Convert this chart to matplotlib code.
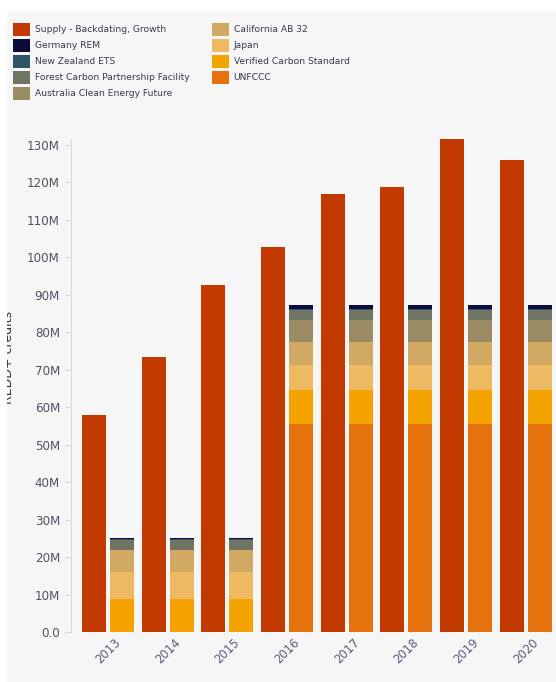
import matplotlib
matplotlib.use('Agg')
import matplotlib.pyplot as plt
from matplotlib.patches import Rectangle, Patch
import numpy as np

years = ['2013', '2014', '2015', '2016', '2017', '2018', '2019', '2020']
supply = [57.8, 73.3, 92.5, 102.9, 117.0, 118.9, 131.5, 125.9]
unfccc = [0.0, 0.0, 0.0, 55.6, 55.6, 55.6, 55.6, 55.6]
vcs = [8.9, 8.9, 8.9, 9.1, 9.1, 9.1, 9.1, 9.1]
japan = [7.0, 7.0, 7.0, 6.7, 6.7, 6.7, 6.7, 6.7]
california = [6.0, 6.0, 6.0, 5.9, 5.9, 5.9, 5.9, 5.9]
australia = [0.0, 0.0, 0.0, 6.0, 6.0, 6.0, 6.0, 6.0]
fcpf = [2.6, 2.6, 2.6, 2.7, 2.7, 2.7, 2.7, 2.7]
new_zealand = [0.2, 0.2, 0.2, 0.3, 0.3, 0.3, 0.3, 0.3]
germany = [0.5, 0.5, 0.5, 1.1, 1.1, 1.1, 1.1, 1.1]

supply_name = 'Supply - Backdating, Growth'
# stacking order bottom -> top
demand_names = ['UNFCCC', 'Verified Carbon Standard', 'Japan', 'California AB 32',
                'Australia Clean Energy Future', 'Forest Carbon Partnership Facility',
                'New Zealand ETS', 'Germany REM']
demand_values = [unfccc, vcs, japan, california, australia, fcpf, new_zealand, germany]
demand_colors = ['#e5720d', '#f5a300', '#edb961', '#d1a962', '#9b8c66', '#6f7562',
                 '#2f5568', '#0c0b3c']
supply_color = '#c33a01'

BG = '#f6f6f6'
W, H = 556, 682
fig = plt.figure(figsize=(W / 100, H / 100), dpi=100)
fig.patch.set_facecolor(BG)

ax = fig.add_axes([71 / W, 50 / H, 485 / W, 493 / H])
ax.set_facecolor(BG)

x = np.arange(len(years))
bw = 0.403
off = 0.235

ax.bar(x - off, supply, width=bw, color=supply_color, edgecolor='none', label=supply_name)
bottom = np.zeros(len(years))
for name, vals, col in zip(demand_names, demand_values, demand_colors):
    v = np.array(vals)
    ax.bar(x + off, v, width=bw, bottom=bottom, color=col, edgecolor='none', label=name)
    bottom += v

ax.set_xlim(-0.624, 7.51)
ax.set_ylim(0, 131.6)
yt = np.arange(0, 131, 10)
ax.set_yticks(yt)
ax.set_yticklabels(['0.0'] + [f'{int(v)}M' for v in yt[1:]])
ax.set_xticks(x)
ax.set_xticklabels(years, rotation=45, ha='center', va='top')

for s in ['top', 'right', 'bottom']:
    ax.spines[s].set_visible(False)
ax.spines['left'].set_color('#d9d9d9')
ax.spines['left'].set_linewidth(0.8)
ax.tick_params(axis='y', length=4, width=0.8, color='#d9d9d9', pad=4,
               labelsize=8.6, labelcolor='#4e5262')
ax.tick_params(axis='x', length=0, pad=3, labelsize=8.4, labelcolor='#5a5a7a')

# legend (column-first, reversed demand order after supply)
leg_labels = [supply_name] + demand_names[::-1]
leg_colors = [supply_color] + demand_colors[::-1]
leg_handles = [Patch(facecolor=c, edgecolor='none') for c in leg_colors]
fs = 6.6
fig.legend(leg_handles, leg_labels, ncol=2, loc='upper left',
           bbox_to_anchor=(13.3 / W, 1 - 22.7 / H), frameon=False,
           fontsize=fs, borderpad=0, borderaxespad=0,
           handlelength=17 / (fs * 100 / 72), handleheight=16.6 / (fs * 100 / 72),
           handletextpad=0.55, labelspacing=0.33, columnspacing=2.35,
           labelcolor='#3a3a4a')

# y-axis label (clipped at the left edge as in the reference)
fig.text(15.5 / W, 325 / H, 'REDD+ credits', rotation=90, ha='right', va='center',
         fontsize=9, color='#333333')

# white margins
fig.patches.append(Rectangle((0, 0), 7 / W, 1, transform=fig.transFigure,
                             facecolor='white', edgecolor='none', zorder=20))
fig.patches.append(Rectangle((0, 1 - 11 / H), 1, 11 / H, transform=fig.transFigure,
                             facecolor='white', edgecolor='none', zorder=20))

fig.savefig('out.png', dpi=100, facecolor=fig.get_facecolor())
